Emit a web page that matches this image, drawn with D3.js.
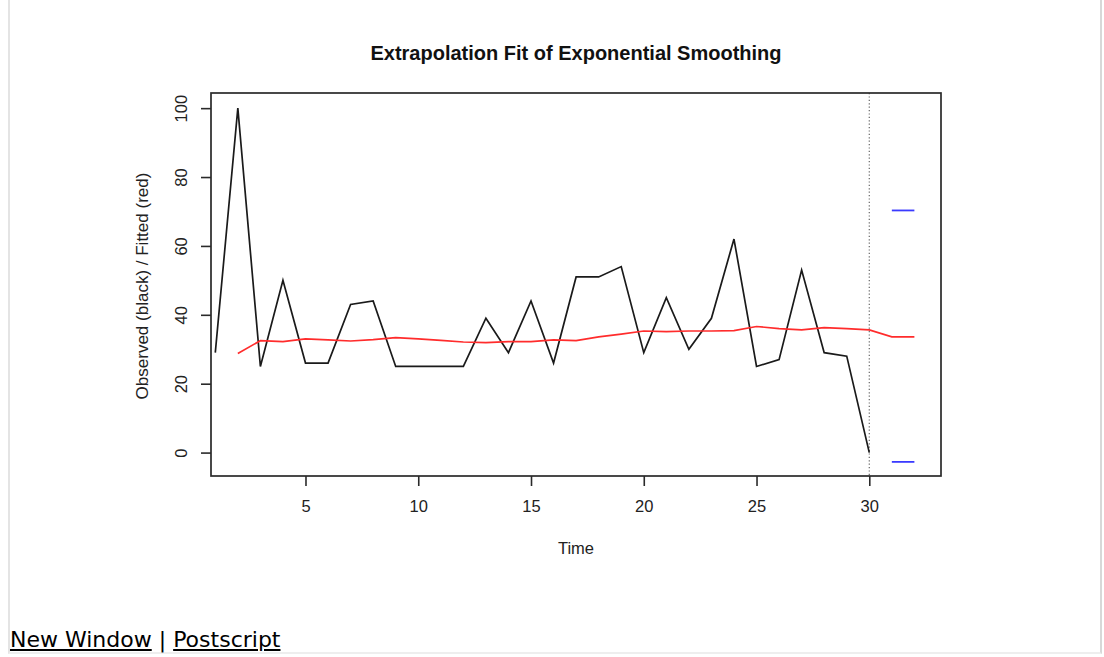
<!DOCTYPE html>
<html>
<head>
<meta charset="utf-8">
<script src="https://cdn.jsdelivr.net/npm/d3@7"></script>
<style>
  html, body { margin: 0; padding: 0; background: #fff; width: 1104px; height: 657px; overflow: hidden; }
  #frame { position: absolute; left: 8px; top: -2px; width: 1094px; height: 656px;
           border-left: 2px solid #e4e4e4; border-right: 2px solid #d8d8d8; border-bottom: 2px solid #eee; box-sizing: border-box; }
  #chart { position: absolute; left: 0; top: 0; }
  #links { position: absolute; left: 10px; top: 629px; font-family: "DejaVu Sans", sans-serif; font-size: 22px; line-height: 22px; color: #000; white-space: nowrap; }
  #links a { color: #000; text-decoration: underline; }
</style>
</head>
<body>
<div id="frame"></div>
<svg id="chart" width="1104" height="657"></svg>
<div id="links"><a href="#">New Window</a> | <a href="#">Postscript</a></div>
<script>
// ---- data ----
const timeObserved = d3.range(1, 31);
const observed = [29, 100, 25, 50, 26, 26, 43, 44, 25, 25, 25, 25, 39, 29, 44, 26, 51, 51, 54, 29,
                  45, 30, 39, 62, 25, 27, 53, 29, 28, 0];
const timeFitted = d3.range(2, 33);
const fitted = [28.8, 32.5, 32.2, 33.0, 32.7, 32.4, 32.8, 33.4, 33.0, 32.6, 32.1, 31.9, 32.2, 32.2, 32.7,
                32.5, 33.6, 34.4, 35.3, 35.1, 35.3, 35.3, 35.4, 36.6, 36.0, 35.6, 36.3, 36.0, 35.6, 33.6, 33.6];
const forecastTime = [31, 32];
const upperBound = [70.3, 70.3];
const lowerBound = [-2.7, -2.7];
const xTicks = [5, 10, 15, 20, 25, 30];
const yTicks = [0, 20, 40, 60, 80, 100];
const cutoff = 30;
const titleText = "Extrapolation Fit of Exponential Smoothing";
const xLabel = "Time";
const yLabel = "Observed (black) / Fitted (red)";

// ---- layout ----
const svg = d3.select("#chart");
const L = 211, R = 941, T = 93, B = 476;
const x = d3.scaleLinear().domain([0.81, 33.18]).range([L, R]);
const y = d3.scaleLinear().domain([-6.8, 104.4]).range([B, T]);
const font = "Liberation Sans, Arial, Helvetica, sans-serif";
const fs = 16.5;

// title
svg.append("text").attr("x", (L + R) / 2).attr("y", 60).attr("text-anchor", "middle")
  .attr("font-family", font).attr("font-weight", "bold").attr("font-size", 20).attr("fill", "#111")
  .text(titleText);

// dotted cutoff line
svg.append("line").attr("x1", x(cutoff)).attr("x2", x(cutoff)).attr("y1", T).attr("y2", B)
  .attr("stroke", "#666").attr("stroke-width", 1.2).attr("stroke-dasharray", "1.2,2.2");

const line = d3.line().x(d => x(d[0])).y(d => y(d[1]));

// observed
svg.append("path").datum(timeObserved.map((t, i) => [t, observed[i]]))
  .attr("d", line).attr("fill", "none").attr("stroke", "#1a1a1a").attr("stroke-width", 1.7)
  .attr("stroke-linejoin", "miter");

// fitted
svg.append("path").datum(timeFitted.map((t, i) => [t, fitted[i]]))
  .attr("d", line).attr("fill", "none").attr("stroke", "#ff2c2c").attr("stroke-width", 1.7);

// bounds
[upperBound, lowerBound].forEach(b => {
  svg.append("path").datum(forecastTime.map((t, i) => [t, b[i]]))
    .attr("d", line).attr("fill", "none").attr("stroke", "#3a3aff").attr("stroke-width", 1.8);
});

// box
svg.append("rect").attr("x", L).attr("y", T).attr("width", R - L).attr("height", B - T)
  .attr("fill", "none").attr("stroke", "#2a2a2a").attr("stroke-width", 1.7);

// x axis
const xAxis = svg.append("g").attr("transform", `translate(0,${B})`)
  .call(d3.axisBottom(x).tickValues(xTicks).tickSize(10).tickPadding(14).tickFormat(d3.format("d")));
xAxis.select(".domain").remove();
xAxis.selectAll("line").attr("stroke", "#2a2a2a").attr("stroke-width", 1.6);
xAxis.selectAll("text").attr("font-family", font).attr("font-size", fs).attr("fill", "#222");

// y axis
const yAxis = svg.append("g").attr("transform", `translate(${L},0)`)
  .call(d3.axisLeft(y).tickValues(yTicks).tickSize(10).tickFormat(d3.format("d")));
yAxis.select(".domain").remove();
yAxis.selectAll("line").attr("stroke", "#2a2a2a").attr("stroke-width", 1.6);
yAxis.selectAll("text").remove();
yAxis.selectAll(".tick").append("text")
  .attr("transform", "translate(-30,0) rotate(-90)")
  .attr("text-anchor", "middle").attr("dy", "0.35em")
  .attr("font-family", font).attr("font-size", fs).attr("fill", "#222")
  .text(d => d);

// axis labels
svg.append("text").attr("x", (L + R) / 2).attr("y", 554).attr("text-anchor", "middle")
  .attr("font-family", font).attr("font-size", fs).attr("fill", "#222").text(xLabel);
svg.append("text").attr("transform", `translate(148,286) rotate(-90)`)
  .attr("text-anchor", "middle").attr("font-family", font).attr("font-size", 17).attr("fill", "#222")
  .text(yLabel);
</script>
</body>
</html>
